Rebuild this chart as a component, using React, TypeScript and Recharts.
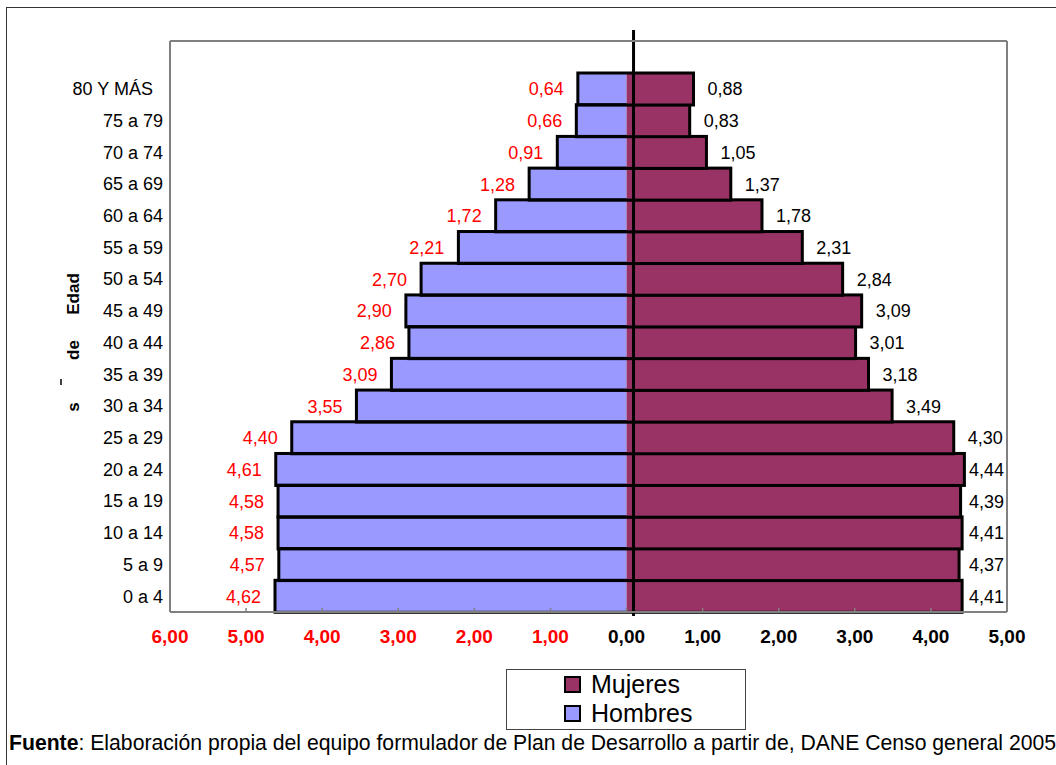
import React from "react";
import { BarChart, Bar, XAxis, YAxis, Legend, LabelList, ReferenceLine } from "recharts";

// grupos de edad, de abajo hacia arriba
const edades = [
  "0 a 4", "5 a 9", "10 a 14", "15 a 19", "20 a 24", "25 a 29", "30 a 34", "35 a 39", "40 a 44",
  "45 a 49", "50 a 54", "55 a 59", "60 a 64", "65 a 69", "70 a 74", "75 a 79", "80 Y MÁS",
];
const hombres = [4.62, 4.57, 4.58, 4.58, 4.61, 4.4, 3.55, 3.09, 2.86, 2.9, 2.7, 2.21, 1.72, 1.28, 0.91, 0.66, 0.64];
const mujeres = [4.41, 4.37, 4.41, 4.39, 4.44, 4.3, 3.49, 3.18, 3.01, 3.09, 2.84, 2.31, 1.78, 1.37, 1.05, 0.83, 0.88];
const xTicks = [-6, -5, -4, -3, -2, -1, 0, 1, 2, 3, 4, 5];
const leyenda = [
  { name: "Mujeres", color: "#993366" },
  { name: "Hombres", color: "#9999FF" },
];

const FONT = "'Liberation Sans', Arial, sans-serif";
const HOMBRES_COLOR = "#9999FF";
const MUJERES_COLOR = "#993366";
const GRIS = "#808080";

const data = edades.map((edad, i) => ({
  edad,
  hombres: -hombres[i],
  mujeres: mujeres[i],
  h: hombres[i],
  m: mujeres[i],
}));

const fmt = (v: number) => Math.abs(v).toFixed(2).replace(".", ",");

function HombresShape(p: any) {
  const x = Math.min(p.x, p.x + p.width);
  return <rect x={x} y={p.y} width={Math.abs(p.width)} height={p.height} fill={HOMBRES_COLOR} />;
}

// relleno de mujeres + contorno negro de toda la fila
function MujeresShape(p: any) {
  const w = Math.abs(p.width);
  const x0 = Math.min(p.x, p.x + p.width);
  const hw = p.payload.m ? (w * p.payload.h) / p.payload.m : 0;
  return (
    <g>
      <rect x={x0} y={p.y} width={w} height={p.height} fill={MUJERES_COLOR} />
      <rect x={x0 - hw} y={p.y} width={w + hw} height={p.height} fill="none" stroke="#000" strokeWidth={3} />
    </g>
  );
}

function HombresLabel(props: any) {
  const vb = props.viewBox || props;
  const left = Math.min(vb.x, vb.x + vb.width);
  return (
    <text x={left - 14} y={vb.y + vb.height / 2} dy="0.36em" textAnchor="end" fill="#FF0000" fontSize={18} fontFamily={FONT}>
      {fmt(props.value)}
    </text>
  );
}

function MujeresLabel(props: any) {
  const vb = props.viewBox || props;
  const right = Math.max(vb.x, vb.x + vb.width);
  return (
    <text x={Math.min(right + 14, 969)} y={vb.y + vb.height / 2} dy="0.36em" textAnchor="start" fill="#000" fontSize={18} fontFamily={FONT}>
      {fmt(props.value)}
    </text>
  );
}

function XTick(props: any) {
  const { x, y, payload } = props;
  const v = payload.value;
  return (
    <g>
      <line x1={x} x2={x} y1={y} y2={y - 4} stroke={GRIS} strokeWidth={1.5} />
      <text x={x} y={y + 31} textAnchor="middle" fontWeight="bold" fontSize={19} fontFamily={FONT} fill={v < 0 ? "#FF0000" : "#000"}>
        {fmt(v)}
      </text>
    </g>
  );
}

function ZeroLine(p: any) {
  const top = Math.min(p.y1, p.y2);
  const bottom = Math.max(p.y1, p.y2);
  return <line x1={p.x1 + 7} x2={p.x2 + 7} y1={top - 11} y2={bottom + 4} stroke="#000" strokeWidth={3} />;
}

function Leyenda() {
  return (
    <div style={{ width: 238, height: 59, border: "1px solid #444", background: "#fff", fontFamily: FONT }}>
      {leyenda.map((l) => (
        <div key={l.name} style={{ display: "flex", alignItems: "center", height: 29, paddingLeft: 57 }}>
          <span style={{ width: 13, height: 13, background: l.color, border: "2px solid #000", display: "inline-block" }} />
          <span style={{ fontSize: 25, marginLeft: 10, lineHeight: "29px" }}>{l.name}</span>
        </div>
      ))}
    </div>
  );
}

export default function App() {
  return (
    <div style={{ position: "absolute", left: 0, top: 0, width: 1056, height: 765, overflow: "hidden", background: "#fff" }}>
      <svg width={1056} height={765} style={{ position: "absolute", left: 0, top: 0 }}>
        <rect x={6.5} y={7.5} width={1100} height={800} fill="none" stroke="#333" strokeWidth={1} />
        <g fontFamily={FONT} fontWeight="bold" fontSize={17} fill="#000">
          <text transform="translate(79,294) rotate(-90)" textAnchor="middle">Edad</text>
          <text transform="translate(79,350) rotate(-90)" textAnchor="middle">de</text>
          <line x1={61} x2={61} y1={379} y2={385} stroke="#000" strokeWidth={1.5} />
          <text transform="translate(79,407) rotate(-90)" textAnchor="middle">s</text>
        </g>
        <text x={9} y={750} fontFamily={FONT} fontSize={21.2} fill="#000">
          <tspan fontWeight="bold">Fuente</tspan>: Elaboración propia del equipo formulador de Plan de Desarrollo a partir de, DANE Censo general 2005
        </text>
      </svg>
      <div style={{ position: "absolute", left: 0, top: 0 }}>
        <BarChart
          width={1056}
          height={765}
          data={data}
          layout="vertical"
          stackOffset="sign"
          barCategoryGap={0}
          margin={{ top: 40, right: 48, bottom: 0, left: 0 }}
        >
          <XAxis
            type="number"
            domain={[-6, 5]}
            ticks={xTicks}
            interval={0}
            height={153}
            tickSize={0}
            tickMargin={0}
            tickLine={false}
            tick={<XTick />}
            axisLine={{ stroke: GRIS, strokeWidth: 2 }}
          />
          <XAxis
            xAxisId="top"
            orientation="top"
            type="number"
            domain={[-6, 5]}
            height={1}
            tick={false}
            tickLine={false}
            axisLine={{ stroke: GRIS, strokeWidth: 2 }}
          />
          <YAxis
            type="category"
            dataKey="edad"
            reversed
            width={170}
            padding={{ top: 32, bottom: 0 }}
            tickSize={0}
            tickMargin={7}
            tickLine={false}
            interval={0}
            tickFormatter={(v: string) => (v === "80 Y MÁS" ? v + "\u00a0\u00a0" : v)}
            tick={{ fill: "#000", fontSize: 18, fontFamily: FONT }}
            axisLine={{ stroke: GRIS, strokeWidth: 2 }}
          />
          <YAxis
            yAxisId="right"
            orientation="right"
            type="category"
            dataKey="edad"
            width={1}
            tick={false}
            tickLine={false}
            axisLine={{ stroke: GRIS, strokeWidth: 2 }}
          />
          <Bar dataKey="hombres" stackId="p" fill={HOMBRES_COLOR} shape={<HombresShape />} isAnimationActive={false}>
            <LabelList dataKey="hombres" content={<HombresLabel />} />
          </Bar>
          <Bar dataKey="mujeres" stackId="p" fill={MUJERES_COLOR} shape={<MujeresShape />} isAnimationActive={false}>
            <LabelList dataKey="mujeres" content={<MujeresLabel />} />
          </Bar>
          <ReferenceLine x={0} shape={<ZeroLine />} />
          <Legend
            verticalAlign="middle"
            align="center"
            content={<Leyenda />}
            wrapperStyle={{ left: 506, top: 669, width: 240, height: 61 }}
          />
        </BarChart>
      </div>
    </div>
  );
}
